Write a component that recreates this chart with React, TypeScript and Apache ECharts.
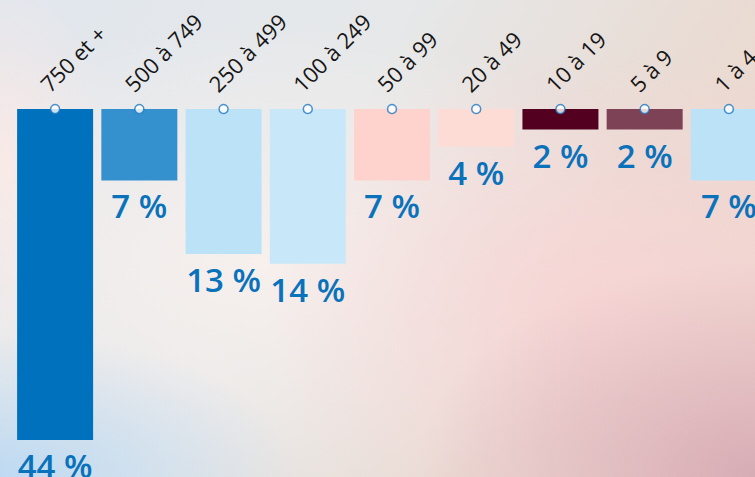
import React, { useEffect, useRef } from "react";
import * as echarts from "echarts";

const categories = ["750 et +", "500 à 749", "250 à 499", "100 à 249", "50 à 99", "20 à 49", "10 à 19", "5 à 9", "1 à 4"];
// shares (%); labels are rounded
const shares = [44, 6.6, 13.4, 14.3, 6.6, 3.5, 1.9, 1.9, 6.6];
const barColors = ["#0071bc", "#3591cd", "#bbe2f7", "#c8e8f9", "#fed3cd", "#fedcd6", "#530020", "#7d4256", "#bbe2f7"];
const baseline = categories.map(() => 0);

export default function App() {
  const ref = useRef<HTMLDivElement>(null);
  useEffect(() => {
    if (!ref.current) return;
    const chart = echarts.init(ref.current, undefined, { renderer: "svg" });
    chart.setOption({
      animation: false,
      grid: { left: 13, top: 109, width: 758, height: 331, containLabel: false },
      xAxis: {
        type: "category",
        position: "top",
        data: categories,
        axisLine: { show: false },
        axisTick: { show: false },
        axisLabel: {
          interval: 0,
          rotate: 45,
          margin: 33,
          padding: [0, 0, 0, -16],
          fontSize: 22,
          color: "#161616",
          fontFamily: "Open Sans",
        },
      },
      yAxis: {
        type: "value",
        inverse: true,
        min: 0,
        max: 30.6,
        show: false,
      },
      series: [
        {
          type: "bar",
          data: shares.map((v, i) => ({ value: v, itemStyle: { color: barColors[i] } })),
          barWidth: 76,
          clip: true,
          label: {
            show: true,
            position: "bottom",
            distance: 9,
            formatter: (p: any) => Math.round(p.value) + " %",
            color: "#0a72bb",
            fontSize: 33,
            fontWeight: 600,
            fontFamily: "Open Sans",
          },
        },
        {
          type: "scatter",
          data: baseline,
          symbol: "circle",
          symbolSize: 9,
          clip: false,
          z: 5,
          itemStyle: { color: "#ffffff", borderColor: "#1f78c1", borderWidth: 1.5 },
        },
      ],
    });
    return () => chart.dispose();
  }, []);
  return (
    <div
      style={{
        position: "fixed",
        left: 0,
        top: 0,
        width: 755,
        height: 477,
        overflow: "hidden",
        background: [
          "radial-gradient(ellipse 45% 45% at 100% 100%, rgba(212,168,178,0.9) 0%, rgba(212,168,178,0) 100%)",
          "radial-gradient(ellipse 40% 30% at 0% 100%, rgba(190,218,242,1) 0%, rgba(190,218,242,0) 100%)",
          "radial-gradient(ellipse 45% 55% at 80% 65%, rgba(247,212,212,0.95) 0%, rgba(247,212,212,0) 100%)",
          "radial-gradient(ellipse 55% 50% at 35% 55%, rgba(247,240,237,1) 0%, rgba(247,240,237,0) 100%)",
          "radial-gradient(ellipse 15% 40% at 0% 35%, rgba(252,232,228,0.9) 0%, rgba(252,232,228,0) 100%)",
          "linear-gradient(120deg, #e1e7ee 0%, #e6e8e9 40%, #e9dcd4 70%, #efd4cc 100%)",
        ].join(","),
      }}
    >
      <div ref={ref} style={{ width: 800, height: 477 }} />
    </div>
  );
}
